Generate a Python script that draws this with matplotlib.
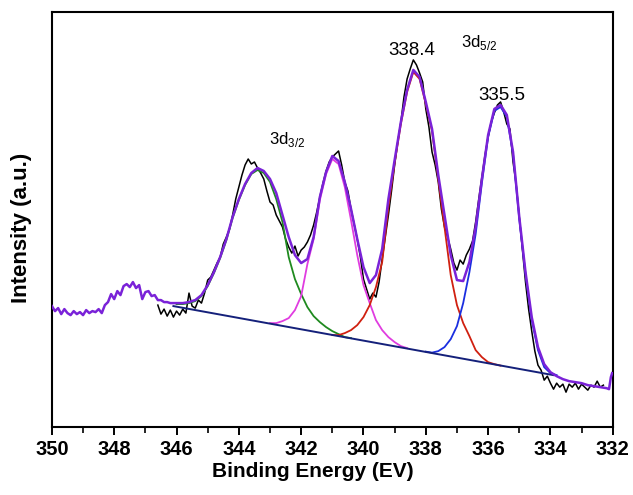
import numpy as np
import matplotlib
matplotlib.use("Agg")
import matplotlib.pyplot as plt
from matplotlib.ticker import MultipleLocator

plt.rcParams['font.family'] = ['Liberation Sans', 'DejaVu Sans']
plt.rcParams['mathtext.fontset'] = 'custom'
plt.rcParams['mathtext.rm'] = 'Liberation Sans'

# raw spectrum (black), 346.6 -> 332.3 eV, step 0.1
RAW_START = 346.6
raw = [122, 113, 118, 111, 117, 110, 116, 112, 118, 114,
       134, 121, 119, 127, 124, 134, 147, 150, 157, 164,
       170, 183, 190, 198, 212, 228, 240, 252, 262, 268,
       263, 265, 259, 254, 248, 236, 225, 222, 212, 206,
       200, 188, 180, 174, 181, 171, 177, 180, 185, 192,
       202, 215, 230, 244, 256, 265, 270, 273, 276, 262,
       245, 236, 218, 203, 188, 170, 148, 138, 128, 134,
       130, 145, 168, 190, 212, 236, 262, 285, 305, 330,
       348, 358, 367, 362, 354, 345, 318, 300, 275, 262,
       245, 218, 200, 190, 178, 164, 157, 167, 163, 172,
       178, 186, 205, 228, 250, 272, 290, 305, 314, 322,
       325, 315, 303, 298, 265, 243, 210, 178, 145, 118,
       96, 76, 62, 57, 47, 51, 44, 38, 44, 40,
       43, 35, 43, 40, 44, 38, 43, 40, 37, 42,
       40, 46, 40, 42]

# purple: noisy part 350.0 -> 346.1 (step 0.1), smooth envelope 346.0 -> 332.2 (step 0.2)
left_noise = [121, 116, 119, 113, 118, 114, 112, 116, 113, 115,
              112, 117, 114, 116, 115, 118, 114, 122, 125, 133,
              128, 136, 132, 141, 143, 140, 145, 139, 142, 128,
              135, 136, 131, 132, 127, 127, 125, 125, 124, 124]
envelope = [124, 124, 125, 127, 132, 142, 155, 170, 188, 210,
            228, 243, 254, 259, 256, 248, 234, 212, 190, 172,
            164, 168, 190, 230, 255, 271, 266, 245, 218, 188,
            160, 144, 152, 178, 228, 267, 305, 337, 357, 350,
            325, 298, 252, 212, 172, 147, 146, 165, 200, 248,
            292, 318, 322, 312, 275, 210, 155, 110, 80, 63,
            55, 51, 48, 46, 45, 44, 42, 41, 40, 39]
end_x = [332.12, 332.06, 332.02]
end_y = [38, 50, 54]

# fitted components (absolute heights), step 0.2
green_start = 346.0
green = [123, 123, 124, 126, 131, 141, 154, 169, 187, 209,
         227, 242, 253, 257, 254, 245, 228, 205, 170, 148,
         133, 120, 111, 105, 100, 96, 93, 90, 89]
magenta_start = 343.0
magenta = [104, 104, 106, 109, 117, 131, 163, 188, 227, 253,
           268, 263, 240, 207, 172, 142, 124, 107, 97, 90,
           85, 81, 79]
red_start = 341.0
red = [92, 92, 94, 97, 102, 110, 122, 140, 165, 220,
       264, 303, 335, 355, 348, 323, 296, 248, 200, 152,
       122, 104, 91, 77, 70, 65, 63, 61.5]
blue_start = 338.0
blue = [75.5, 74.5, 76, 80, 88, 101, 124, 155, 193, 244,
        290, 316, 320, 310, 273, 208, 153, 107, 77, 60,
        54, 52]

base_x = [346.1, 333.9]
base_y = [121, 52]


def grid(start, n, step):
    return start - step * np.arange(n)


fig = plt.figure(figsize=(6.33, 4.95), dpi=100)
ax = fig.add_axes([0.082, 0.137, 0.886, 0.839])

ax.plot(grid(RAW_START, len(raw), 0.1), raw, color='black', lw=1.1, zorder=2)
ax.plot(grid(green_start, len(green), 0.2), green, color='#1f8a1f', lw=1.3, zorder=3)
ax.plot(grid(magenta_start, len(magenta), 0.2), magenta, color='#e03ce0', lw=1.3, zorder=3)
ax.plot(grid(red_start, len(red), 0.2), red, color='#d02010', lw=1.3, zorder=3)
ax.plot(grid(blue_start, len(blue), 0.2), blue, color='#1a2ee0', lw=1.3, zorder=3)
ax.plot(base_x, base_y, color='#14207a', lw=1.4, zorder=4)

px = np.concatenate([grid(350.0, len(left_noise), 0.1),
                     grid(346.0, len(envelope), 0.2), end_x])
py = np.concatenate([left_noise, envelope, end_y])
ax.plot(px, py, color='#7a22d8', lw=1.8, zorder=5)

ax.text(342.45, 283, r'3d$_{\mathrm{3/2}}$', fontsize=12, ha='center')
ax.text(338.45, 372, '338.4', fontsize=13.5, ha='center')
ax.text(336.3, 380, r'3d$_{\mathrm{5/2}}$', fontsize=12, ha='center')
ax.text(335.55, 327, '335.5', fontsize=13.5, ha='center')

ax.set_xlim(350, 332)
ax.set_ylim(0, 415)
ax.xaxis.set_major_locator(MultipleLocator(2))
ax.xaxis.set_minor_locator(MultipleLocator(1))
ax.set_yticks([])
ax.tick_params(axis='x', which='major', length=6, width=1.4, direction='out')
ax.tick_params(axis='x', which='minor', length=4, width=1.2, direction='out')
for lab in ax.get_xticklabels():
    lab.set_fontsize(14.5)
    lab.set_fontweight('bold')
for sp in ax.spines.values():
    sp.set_linewidth(1.5)

ax.set_xlabel('Binding Energy (EV)', fontsize=15, fontweight='bold')
ax.xaxis.set_label_coords(0.466, -0.085)
ax.set_ylabel('Intensity (a.u.)', fontsize=16, fontweight='bold')
ax.yaxis.set_label_coords(-0.036, 0.48)

fig.savefig('out.png', dpi=100)
